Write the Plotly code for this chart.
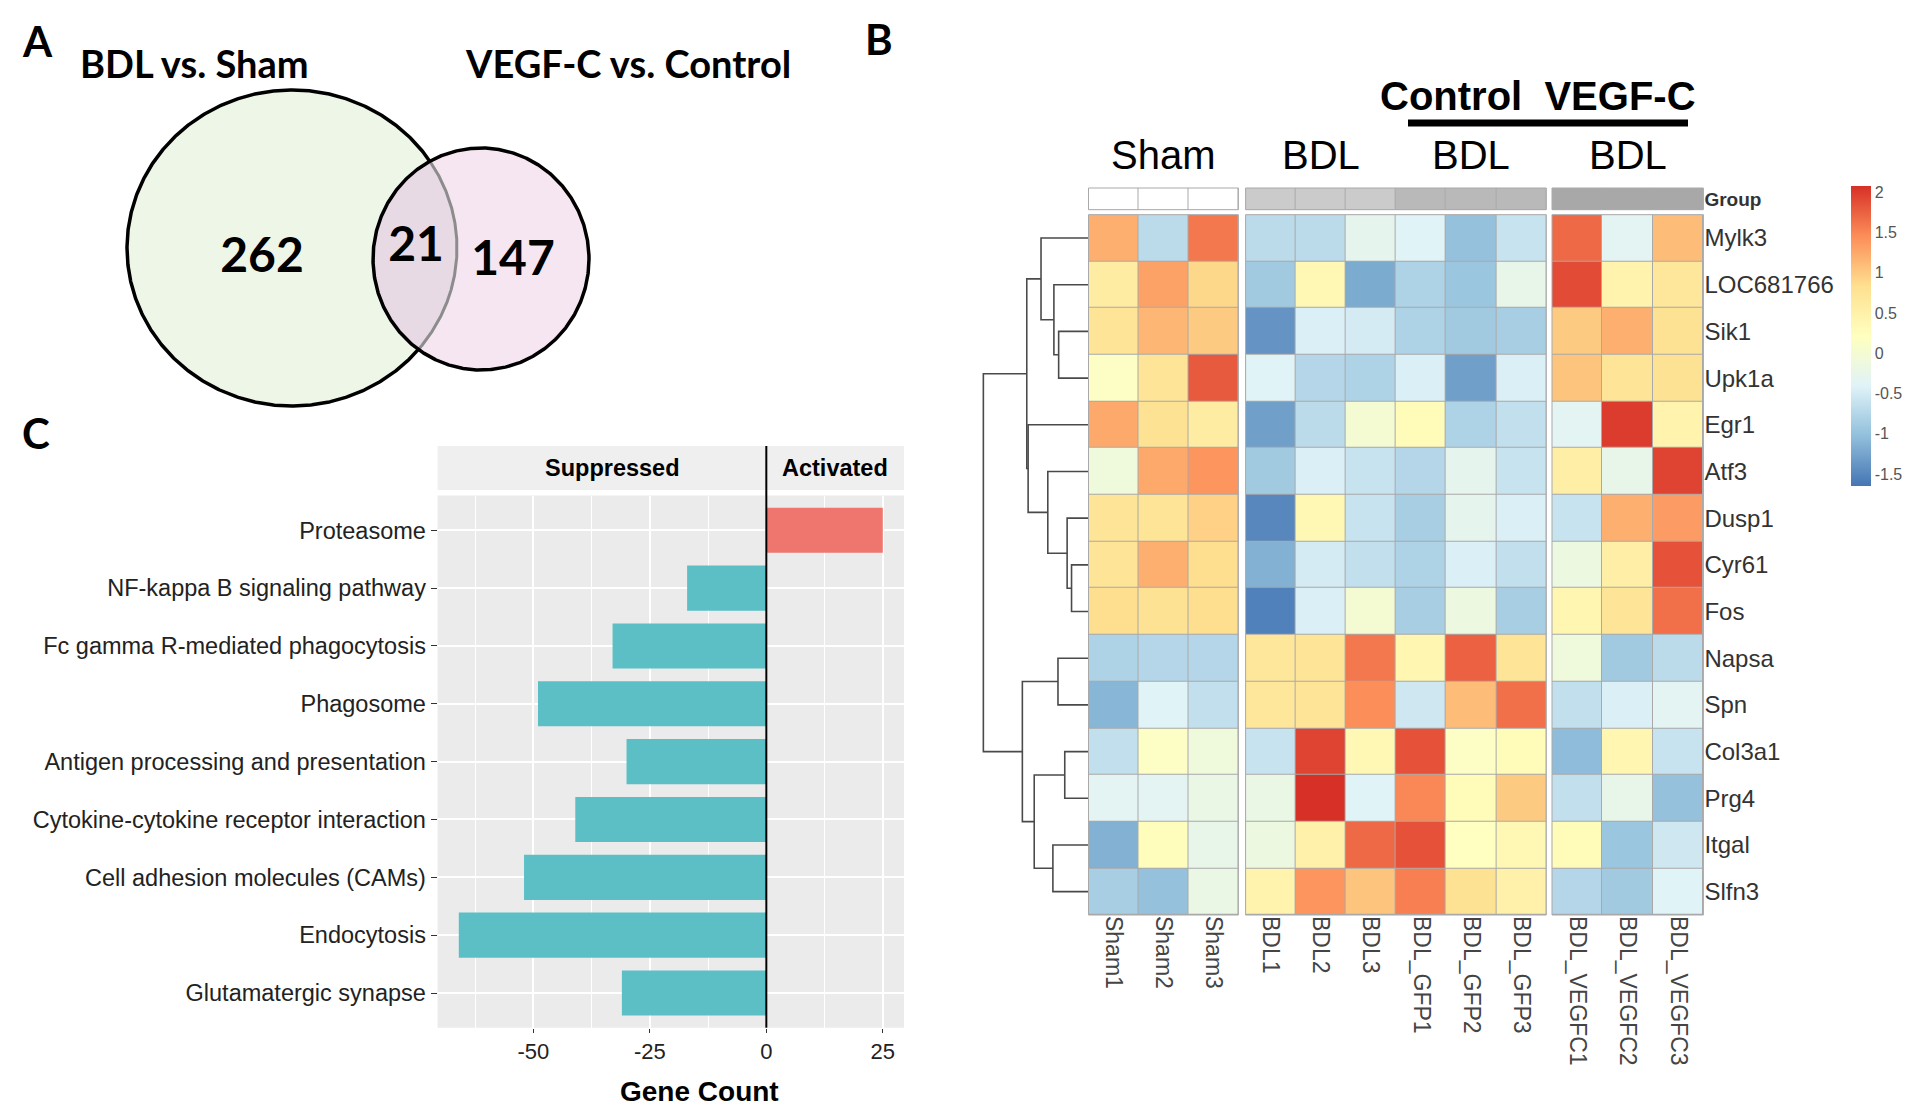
import numpy as np
import plotly.graph_objects as go

W, H = 1920, 1104
ARIAL = "Arial, Liberation Sans, sans-serif"
CAL = "Lato, Open Sans, sans-serif"

# ---- panel A: Venn counts
venn_titles = ["BDL vs. Sham", "VEGF-C vs. Control"]
venn_counts = [262, 21, 147]  # BDL only, shared, VEGF-C only

# ---- panel B: heatmap
genes = ["Mylk3", "LOC681766", "Sik1", "Upk1a", "Egr1", "Atf3", "Dusp1", "Cyr61", "Fos",
         "Napsa", "Spn", "Col3a1", "Prg4", "Itgal", "Slfn3"]
samples = ["Sham1", "Sham2", "Sham3", "BDL1", "BDL2", "BDL3", "BDL_GFP1", "BDL_GFP2",
           "BDL_GFP3", "BDL_VEGFC1", "BDL_VEGFC2", "BDL_VEGFC3"]
group_level = [0, 0, 0, 1, 1, 1, 2, 2, 2, 3, 3, 3]
expr_z = [
    [1.20, -0.70, 1.60, -0.70, -0.70, -0.30, -0.40, -1.00, -0.60, 1.70, -0.35, 1.10],
    [0.60, 1.30, 0.90, -0.90, 0.35, -1.20, -0.80, -0.95, -0.25, 1.90, 0.45, 0.70],
    [0.75, 1.15, 1.00, -1.40, -0.45, -0.50, -0.80, -0.90, -0.85, 1.00, 1.20, 0.80],
    [0.15, 0.75, 1.80, -0.40, -0.75, -0.80, -0.45, -1.30, -0.45, 1.05, 0.75, 0.80],
    [1.25, 0.80, 0.60, -1.30, -0.70, 0.00, 0.30, -0.80, -0.65, -0.35, 2.00, 0.45],
    [-0.10, 1.25, 1.40, -0.90, -0.45, -0.60, -0.75, -0.30, -0.60, 0.55, -0.25, 1.95],
    [0.75, 0.75, 0.95, -1.50, 0.35, -0.60, -0.85, -0.30, -0.45, -0.60, 1.20, 1.35],
    [0.75, 1.20, 0.85, -1.15, -0.50, -0.65, -0.80, -0.45, -0.65, -0.15, 0.55, 1.85],
    [0.85, 0.80, 0.85, -1.55, -0.45, 0.00, -0.85, -0.15, -0.85, 0.40, 0.75, 1.65],
    [-0.80, -0.75, -0.75, 0.70, 0.75, 1.60, 0.40, 1.75, 0.75, -0.10, -0.90, -0.70],
    [-1.10, -0.40, -0.65, 0.70, 0.75, 1.45, -0.55, 1.10, 1.65, -0.65, -0.45, -0.35],
    [-0.65, 0.15, -0.10, -0.60, 1.95, 0.35, 1.85, 0.15, 0.30, -1.05, 0.40, -0.60],
    [-0.35, -0.35, -0.20, -0.20, 2.08, -0.40, 1.50, 0.30, 1.00, -0.65, -0.25, -1.00],
    [-1.15, 0.25, -0.25, -0.15, 0.50, 1.70, 1.85, 0.20, 0.35, 0.30, -0.95, -0.55],
    [-0.85, -1.00, -0.20, 0.45, 1.40, 1.05, 1.55, 0.80, 0.50, -0.75, -0.90, -0.40],
]
# row clustering: (left node, right node, height); new nodes numbered from len(genes)
row_linkage = [
    (2, 3, 88), (1, 15, 102), (0, 16, 140),
    (7, 8, 50), (6, 18, 63), (5, 19, 120), (4, 20, 178), (17, 21, 182),
    (9, 10, 90), (11, 12, 70), (13, 14, 105), (24, 25, 160), (23, 26, 195),
    (22, 27, 310),
]

# ---- panel C: KEGG pathways
pathways = ["Proteasome", "NF-kappa B signaling pathway", "Fc gamma R-mediated phagocytosis",
            "Phagosome", "Antigen processing and presentation",
            "Cytokine-cytokine receptor interaction", "Cell adhesion molecules (CAMs)",
            "Endocytosis", "Glutamatergic synapse"]
gene_counts = [25, -17, -33, -49, -30, -41, -52, -66, -31]
count_ticks = [-50, -25, 0, 25]


def pxx(v):
    return v / W


def pxy(v):
    return 1 - v / H


fig = go.Figure()

# ---------------- Venn ----------------
big = (284, 240, 165, 158)
small = (473, 251, 108, 111)


def ellipse(c, t):
    return c[0] + c[2] * np.cos(t), c[1] + c[3] * np.sin(t)


def inside(c, x, y):
    return ((x - c[0]) / c[2]) ** 2 + ((y - c[1]) / c[3]) ** 2 <= 1


t = np.linspace(0, 2 * np.pi, 721)
bx, by = ellipse(big, t)
sx, sy = ellipse(small, t)
tb = np.linspace(-np.pi, np.pi, 2001)
abx, aby = ellipse(big, tb)
mb = inside(small, abx, aby)
ts = np.linspace(0, 2 * np.pi, 2001)
asx, asy = ellipse(small, ts)
ms = inside(big, asx, asy)
lens_x = np.concatenate([abx[mb], asx[ms]])
lens_y = np.concatenate([aby[mb], asy[ms]])

venn_kw = dict(xaxis="x", yaxis="y", mode="lines", hoverinfo="skip", showlegend=False)
fig.add_trace(go.Scatter(x=bx, y=by, fill="toself", fillcolor="#EEF6E8",
                         line=dict(color="black", width=3.5), **venn_kw))
fig.add_trace(go.Scatter(x=sx, y=sy, fill="toself", fillcolor="#F6E6F1",
                         line=dict(width=0), **venn_kw))
fig.add_trace(go.Scatter(x=lens_x, y=lens_y, fill="toself", fillcolor="#E8DAE5",
                         line=dict(width=0), **venn_kw))
fig.add_trace(go.Scatter(x=abx[mb], y=aby[mb], line=dict(color="#8c8c8c", width=3), **venn_kw))
fig.add_trace(go.Scatter(x=sx, y=sy, line=dict(color="black", width=3.5), **venn_kw))
fig.add_trace(go.Scatter(
    x=[254, 408, 505], y=[252, 241, 255], mode="text", text=[str(v) for v in venn_counts],
    textfont=dict(family=CAL, size=48, color="black", weight="bold"),
    xaxis="x", yaxis="y", hoverinfo="skip", showlegend=False))

# ---------------- heatmap ----------------
rdylbu = ["#4575B4", "#91BFDB", "#E0F3F8", "#FFFFBF", "#FEE090", "#FC8D59", "#D73027"]
group_scale = [[0, "#ffffff"], [0.2, "#ffffff"], [0.2, "#cbcbcb"], [0.5, "#cbcbcb"],
               [0.5, "#b9b9b9"], [0.8, "#b9b9b9"], [0.8, "#a8a8a8"], [1, "#a8a8a8"]]
blocks = [(0, 3, "x2"), (3, 9, "x3"), (9, 12, "x4")]
rows = list(range(len(genes)))
for s, e, xa in blocks:
    fig.add_trace(go.Heatmap(
        z=[r[s:e] for r in expr_z], x=samples[s:e], y=rows, xaxis=xa, yaxis="y2",
        coloraxis="coloraxis", xgap=1, ygap=1, hoverinfo="skip"))
    fig.add_trace(go.Heatmap(
        z=[group_level[s:e]], x=samples[s:e], y=[0], xaxis=xa, yaxis="y3",
        colorscale=group_scale, zmin=0, zmax=3, showscale=False, xgap=1, ygap=0,
        hoverinfo="skip"))

# dendrogram from linkage
pos = {i: float(i) for i in rows}
hgt = {i: 0.0 for i in rows}
dx, dy = [], []
for k, (a, b, h) in enumerate(row_linkage):
    dx += [hgt[a], h, h, hgt[b], None]
    dy += [pos[a], pos[a], pos[b], pos[b], None]
    pos[len(genes) + k] = (pos[a] + pos[b]) / 2
    hgt[len(genes) + k] = h
fig.add_trace(go.Scatter(x=dx, y=dy, mode="lines", line=dict(color="#4a4a4a", width=1.6),
                         xaxis="x5", yaxis="y2", hoverinfo="skip", showlegend=False))

# ---------------- bar chart ----------------
fig.add_trace(go.Bar(
    x=gene_counts, y=pathways, orientation="h", width=0.78,
    marker=dict(color=["#EE766E" if v > 0 else "#5BBFC5" for v in gene_counts], line_width=0),
    xaxis="x6", yaxis="y5", hoverinfo="skip", showlegend=False))

hm_x = dict(showgrid=False, zeroline=False, ticks="", tickangle=90, anchor="y2",
            tickfont=dict(family=ARIAL, size=23, color="#444"), showline=False)
off = dict(visible=False, showgrid=False, zeroline=False)

fig.update_layout(
    width=W, height=H, margin=dict(l=0, r=0, t=0, b=0),
    paper_bgcolor="white", plot_bgcolor="white",
    xaxis=dict(domain=[0, pxx(800)], range=[0, 800], anchor="y", **off),
    yaxis=dict(domain=[pxy(430), 1], range=[430, 0], anchor="x", **off),
    xaxis2=dict(domain=[pxx(1080.5), pxx(1230.4)], **hm_x),
    xaxis3=dict(domain=[pxx(1237.6), pxx(1538.3)], **hm_x),
    xaxis4=dict(domain=[pxx(1544), pxx(1695.4)], **hm_x),
    yaxis2=dict(domain=[pxy(907), pxy(206.7)], range=[14.5, -0.5], anchor="x4", side="right",
                tickvals=rows, ticktext=genes, ticks="", showgrid=False, zeroline=False,
                tickfont=dict(family=ARIAL, size=24, color="#333")),
    yaxis3=dict(domain=[pxy(201.7), pxy(180)], range=[0.5, -0.5], anchor="x4", side="right",
                tickvals=[0], ticktext=["<b>Group</b>"], ticks="", showgrid=False, zeroline=False,
                tickfont=dict(family=ARIAL, size=19, color="#333")),
    xaxis5=dict(domain=[pxx(974), pxx(1080.5)], range=[314, 0], anchor="y2", **off),
    xaxis6=dict(domain=[pxx(429.6), pxx(896)], range=[-70.55, 29.55], anchor="y5",
                tickvals=count_ticks, ticktext=[str(v) for v in count_ticks],
                ticks="outside", ticklen=4, tickcolor="#333",
                tickfont=dict(family=ARIAL, size=22, color="#222"),
                showgrid=True, gridcolor="white", gridwidth=1.6, zeroline=False,
                minor=dict(tickvals=[-62.5, -37.5, -12.5, 12.5], showgrid=True,
                           gridcolor="white", gridwidth=0.8, ticks="")),
    yaxis5=dict(domain=[pxy(1019.7), pxy(487.6)], range=[8.6, -0.6], anchor="x6",
                type="category", categoryarray=pathways, ticks="outside", ticklen=6,
                tickcolor="#333", tickfont=dict(family=ARIAL, size=23.5, color="#222"),
                showgrid=True, gridcolor="white", gridwidth=1.6, zeroline=False),
    coloraxis=dict(
        colorscale=[[i / 6, c] for i, c in enumerate(rdylbu)], cmin=-1.65, cmax=2.08,
        colorbar=dict(x=pxx(1843), xanchor="left", y=pxy(178), yanchor="top",
                      lenmode="pixels", len=300, thickness=20, xpad=0, ypad=0,
                      outlinewidth=0, ticks="", tickvals=[-1.5, -1, -0.5, 0, 0.5, 1, 1.5, 2],
                      ticktext=["-1.5", "-1", "-0.5", "0", "0.5", "1", "1.5", "2"],
                      tickfont=dict(family=ARIAL, size=16, color="#555"))),
)

shapes = []
# cell-border backgrounds behind heatmap gaps
for _, _, xa in blocks:
    for ya in ("y2", "y3"):
        shapes.append(dict(type="rect", xref=f"{xa} domain", yref=f"{ya} domain",
                           x0=0, x1=1, y0=0, y1=1, fillcolor="#a9a9a9", layer="below",
                           line=dict(width=0)))
        shapes.append(dict(type="rect", xref=f"{xa} domain", yref=f"{ya} domain",
                           x0=0, x1=1, y0=0, y1=1, fillcolor="rgba(0,0,0,0)", layer="above",
                           line=dict(color="#a9a9a9", width=1)))
# ggplot panel + strip
shapes.append(dict(type="rect", xref="x6 domain", yref="y5 domain", x0=0, x1=1, y0=0, y1=1,
                   fillcolor="#EBEBEB", line=dict(width=0), layer="below"))
shapes.append(dict(type="rect", xref="x6 domain", yref="paper", x0=0, x1=1,
                   y0=pxy(482), y1=pxy(438), fillcolor="#EFEFEF", line=dict(width=0),
                   layer="below"))
shapes.append(dict(type="line", xref="x6", yref="paper", x0=0, x1=0, y0=pxy(1019.7),
                   y1=pxy(438), line=dict(color="black", width=2)))
# bar over Control / VEGF-C
shapes.append(dict(type="line", xref="paper", yref="paper", x0=pxx(1400), x1=pxx(1680),
                   y0=pxy(115), y1=pxy(115), line=dict(color="black", width=7)))
fig.update_layout(shapes=shapes)

ann = []


def label(text, x, y, size, family=ARIAL, bold=False, xref="paper", **kw):
    ann.append(dict(text=f"<b>{text}</b>" if bold else text, x=x, y=y, xref=xref,
                    yref="paper", showarrow=False, xanchor=kw.pop("xanchor", "center"),
                    yanchor="middle", font=dict(family=family, size=size, color="black"), **kw))


label("A", pxx(12), pxy(33), 42, CAL, True, xanchor="left")
label("B", pxx(855), pxy(31), 42, CAL, True, xanchor="left")
label("C", pxx(12), pxy(425), 42, CAL, True, xanchor="left")
label(venn_titles[0], pxx(186), pxy(55), 38, CAL, True)
label(venn_titles[1], pxx(620), pxy(55), 38, CAL, True)
label("Control  VEGF-C", pxx(1530), pxy(88), 40, ARIAL, True)
label("Sham", 0.5, pxy(147), 40, xref="x2 domain")
label("BDL", 0.25, pxy(147), 40, xref="x3 domain")
label("BDL", 0.75, pxy(147), 40, xref="x3 domain")
label("BDL", 0.5, pxy(147), 40, xref="x4 domain")
label("Suppressed", -33, pxy(460), 23.5, ARIAL, True, xref="x6")
label("Activated", 14.8, pxy(460), 23.5, ARIAL, True, xref="x6")
label("Gene Count", pxx(691), pxy(1083), 28, ARIAL, True)
fig.update_layout(annotations=ann)

fig.write_html("out.html")
